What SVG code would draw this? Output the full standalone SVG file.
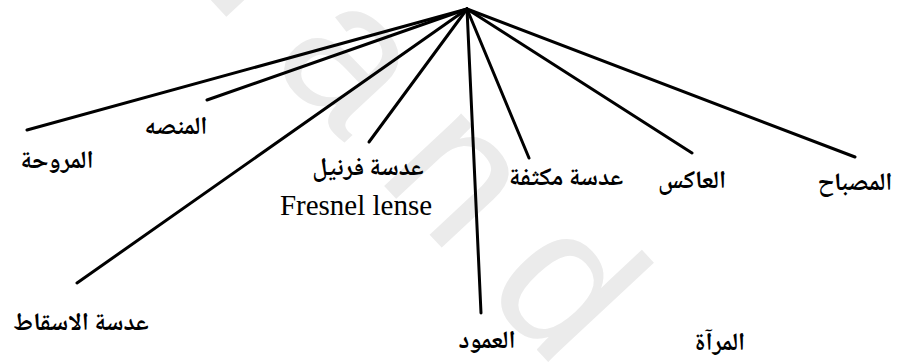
<svg xmlns="http://www.w3.org/2000/svg" width="902" height="363" viewBox="0 0 902 363">
  <style>
    .wm { font-family: "Liberation Sans", Arial, sans-serif; font-size: 200px; letter-spacing: 45px; fill: #ebebeb; }
    .spoke { stroke: #000; stroke-width: 3; stroke-linecap: round; fill: none; }
    .ar { font-family: "Noto Naskh Arabic", "Amiri", "DejaVu Sans", "Noto Sans", serif; font-size: 25px; font-weight: bold; fill: #000; text-anchor: middle; direction: rtl; }
    .en { font-family: "Liberation Serif", "Times New Roman", serif; font-size: 29px; fill: #000; text-anchor: middle; }
  </style>
  <rect width="902" height="363" fill="#fff"/>

  <!-- background watermark -->
  <text class="wm" transform="translate(139,-77) rotate(47)">Nand</text>

  <!-- spokes radiating from the common hub -->
  <g id="connectors">
    <line class="spoke" x1="467" y1="9" x2="27" y2="130"/>
    <line class="spoke" x1="467" y1="9" x2="207" y2="100"/>
    <line class="spoke" x1="467" y1="9" x2="77" y2="283"/>
    <line class="spoke" x1="467" y1="9" x2="369" y2="142"/>
    <line class="spoke" x1="467" y1="9" x2="481" y2="313"/>
    <line class="spoke" x1="467" y1="9" x2="529" y2="158"/>
    <line class="spoke" x1="467" y1="9" x2="692" y2="153"/>
    <line class="spoke" x1="467" y1="9" x2="855" y2="157"/>
  </g>

  <g id="fan"><text class="ar" x="57" y="168">المروحة</text></g>
  <g id="stage"><text class="ar" x="176" y="134">المنصه</text></g>
  <g id="projection-lens"><text class="ar" x="81" y="330">عدسة الاسقاط</text></g>
  <g id="fresnel-lens">
    <text class="ar" x="368" y="175">عدسة فرنيل</text>
    <text class="en" x="356" y="215">Fresnel lense</text>
  </g>
  <g id="column"><text class="ar" x="487" y="348">العمود</text></g>
  <g id="condenser-lens"><text class="ar" x="566" y="185">عدسة مكثفة</text></g>
  <g id="mirror"><text class="ar" x="720" y="350">المرآة</text></g>
  <g id="reflector"><text class="ar" x="692" y="188">العاكس</text></g>
  <g id="lamp"><text class="ar" x="855" y="190">المصباح</text></g>
</svg>
